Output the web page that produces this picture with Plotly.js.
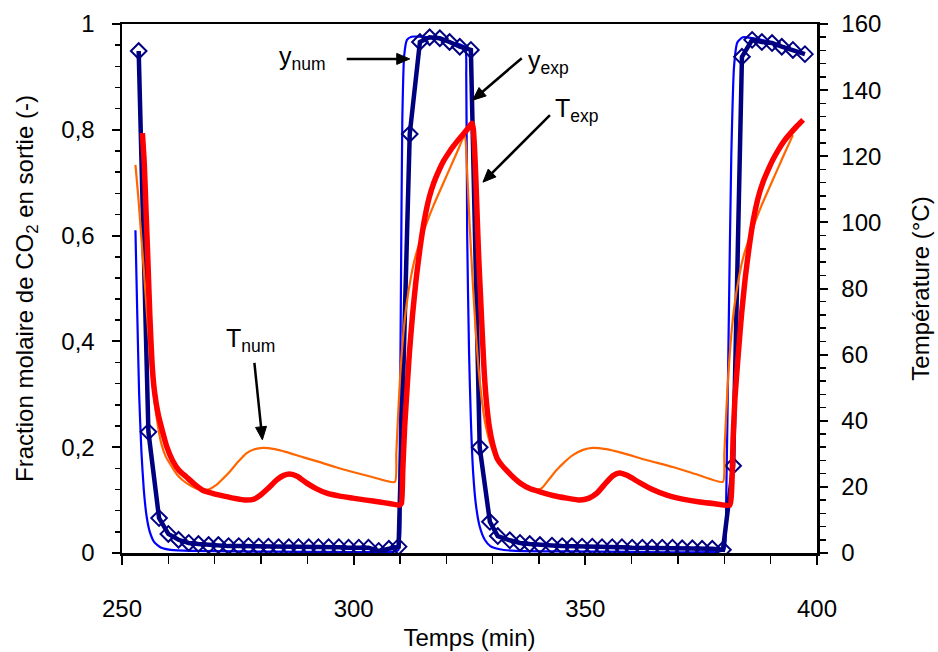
<!DOCTYPE html>
<html>
<head>
<meta charset="utf-8">
<script src="https://cdn.plot.ly/plotly-3.0.1.min.js"></script>
<style>html,body{margin:0;padding:0;background:#fff;}#chart{width:938px;height:652px;}</style>
</head>
<body>
<div id="chart"></div>
<script>
// y_exp : experimental CO2 molar fraction (diamonds + thick navy line)
var yExpTime = [253.6,255.7,258.0,260.0,262.2,264.4,266.5,268.7,270.8,273.0,275.2,277.3,279.5,281.6,283.8,286.0,288.1,290.3,292.4,294.6,296.8,298.9,301.1,303.2,305.4,307.6,309.7,312.1,314.3,316.4,318.6,320.7,322.9,325.3,
  327.2,329.4,331.1,333.7,335.9,338.0,340.2,342.8,345.0,347.1,349.3,351.5,353.6,355.8,357.9,360.1,362.3,364.4,366.6,368.8,370.9,373.1,375.2,377.4,379.7,381.9,383.8,386.0,388.1,390.3,392.4,394.8,397.4];
var yExpVal = [0.949,0.229,0.066,0.036,0.025,0.019,0.017,0.015,0.015,0.013,0.013,0.013,0.012,0.012,0.011,0.011,0.011,0.011,0.011,0.011,0.011,0.010,0.010,0.010,0.004,0.008,0.012,0.792,0.966,0.975,0.973,0.966,0.957,0.951,
  0.200,0.059,0.032,0.024,0.019,0.017,0.015,0.014,0.013,0.013,0.012,0.012,0.011,0.011,0.011,0.010,0.010,0.010,0.010,0.010,0.009,0.009,0.008,0.008,0.006,0.165,0.938,0.970,0.966,0.964,0.957,0.951,0.943];

// y_num : simulated CO2 molar fraction (thin blue)
var yNumTime = [252.9,253.3,253.7,254.2,254.7,255.3,256.0,257.0,258.5,260.5,265,275,290,305,309.6,309.9,310.2,310.5,310.9,311.5,312.5,316,320,324.0,324.3,324.5,324.9,325.3,325.8,326.4,327.2,328.3,329.5,331.5,335,345,360,378,380.0,380.4,380.9,381.5,382.1,382.8,384,388,392,396.3];
var yNumVal = [0.61,0.45,0.30,0.19,0.12,0.07,0.04,0.02,0.01,0.006,0.004,0.003,0.002,0.002,0.005,0.15,0.5,0.82,0.94,0.97,0.976,0.975,0.968,0.957,0.9,0.6,0.38,0.25,0.15,0.09,0.05,0.025,0.013,0.007,0.004,0.003,0.002,0.002,0.006,0.1,0.4,0.75,0.92,0.965,0.975,0.97,0.96,0.945];

// T_exp : experimental temperature (thick red, right axis)
var tExpTime = [254.4,254.8,255.2,255.5,256.0,256.5,257.0,257.8,258.7,259.7,260.9,262.3,263.9,265.5,267.4,269.2,271.1,274,276.9,278.5,279.7,281.5,283.4,284.8,286.2,287.8,289.8,292,294.2,297,299.8,302.7,305.6,308,309.9,310.3,310.6,311.0,311.4,312.0,312.7,313.5,314.3,315.3,316.3,317.3,318.5,319.5,320.5,321.4,322.5,323.6,324.6,325.5,
  325.8,326.1,326.4,326.7,327.0,327.4,327.8,328.2,328.7,329.3,330.0,331.0,332.0,333.0,334.4,335.9,338,340.2,343,346.0,348.8,350.8,352.5,354.5,356.0,357.4,359.0,361.8,364.5,367.6,371,374.7,378,381.2,381.6,381.9,382.3,383.0,383.7,384.5,385.3,386.3,387.3,388.3,389.5,390.5,391.7,393.0,394.3,395.6,397.0];
var tExpVal = [127,118,103,92,72,57,49,42,37,32,28,25,23,21,19,18.2,17.5,16.6,16.0,16.3,17.3,19.5,22.1,23.4,23.9,23.2,21.2,19.4,18.1,17.2,16.6,16.0,15.4,14.9,14.5,15,25,38,47,60,72,83,92,101,107.5,112,116,118.8,121,122.8,124.8,126.6,128.3,130,
  128.5,122,112,100,89,77,65,54,45,38,33,28.5,26.5,25,23,21.2,19.5,18.5,17.4,16.6,16.0,16.6,18.1,21.3,23.4,24.2,23.5,21.2,19.2,17.5,16.3,15.4,14.9,14.5,20,35,47,60,72,83,92,101,107.5,112,116,119,122,124.8,127,129,131];

// T_num : simulated temperature (thin orange, right axis)
var tNumTime = [252.9,253.5,254.2,254.9,255.6,256.3,257.0,257.8,258.5,259.5,260.8,262.0,263.1,264.5,266,267.4,268.8,270.3,271.8,273.2,275,276.9,278.6,280.4,283,285.5,289,292.7,296,299.8,304,308.9,309.2,309.6,310.1,310.7,311.4,312.3,313.3,314.3,315.8,317.2,318.6,320.5,322.4,324.0,
  324.4,325.0,325.7,326.4,327.0,327.6,328.3,329.5,331,332.7,334.4,336.5,338.7,340.5,342,343.8,345.5,347.3,349.5,351.6,354.5,358.1,363,368.9,374,379.7,380.0,380.4,380.9,381.5,382.2,383.1,384.1,385.1,386.6,388.0,389.4,391.3,393.2,394.8];
var tNumVal = [117.4,108,95,82,68,55,46,38,33,29,26,23.5,22,20.6,19.5,19,19.3,20.5,22.5,24.5,27.5,30.2,31.4,31.8,31.4,30.5,29,27.5,26,24.5,23,21.5,30,42,55,66,75,83,89.5,94,100,105,109.5,115.5,121.5,126.4,
  118,100,82,66,55,47,40,33,28,25,23,20.5,19,19.5,22,25.1,27.5,29.6,31.2,31.8,31.4,30.2,28.2,26,23.8,21.5,30,42,55,66,75,83,89.5,94,100,105,109.5,115.5,121.5,126.4];

var xTickVals = [250,300,350,400];
var xTickText = ['250','300','350','400'];

var FONT = 'Liberation Sans, Arial, sans-serif';

var traces = [
  {x: yNumTime, y: yNumVal, type: 'scatter', mode: 'lines', name: 'y_num',
   line: {color: '#0000FF', width: 2.2, shape: 'spline', smoothing: 0.5}, yaxis: 'y', showlegend: false},
  {x: yExpTime, y: yExpVal, type: 'scatter', mode: 'lines+markers', name: 'y_exp',
   line: {color: '#000080', width: 4.5},
   marker: {symbol: 'diamond-open', size: 12, color: '#000080', line: {width: 2, color: '#000080'}},
   yaxis: 'y', showlegend: false},
  {x: tNumTime, y: tNumVal, type: 'scatter', mode: 'lines', name: 'T_num',
   line: {color: '#FF6600', width: 2.2, shape: 'spline', smoothing: 0.5}, yaxis: 'y2', showlegend: false},
  {x: tExpTime, y: tExpVal, type: 'scatter', mode: 'lines', name: 'T_exp',
   line: {color: '#FF0000', width: 5.5, shape: 'spline', smoothing: 0.5}, yaxis: 'y2', showlegend: false}
];

var annFont = {family: FONT, size: 25, color: '#000'};

// arrows: head position (data, left axis) + tail offset in screen pixels (dx right, dy down)
var arrowSpecs = [
  {hx: 312.1, hy: 0.934, dx: -63, dy: 0},
  {hx: 325.7, hy: 0.856, dx: 49, dy: -42},
  {hx: 327.9, hy: 0.701, dx: 67, dy: -67},
  {hx: 280.3, hy: 0.214, dx: -8, dy: -77}
];
var shapes = [];
arrowSpecs.forEach(function (a) {
  var len = Math.sqrt(a.dx * a.dx + a.dy * a.dy);
  // unit vector from head towards tail, in y-up pixel coords
  var ux = a.dx / len, uy = -a.dy / len;
  var px = -uy, py = ux;
  var hl = 13, hw = 5.5;
  shapes.push({type: 'line', xref: 'x', yref: 'y', xsizemode: 'pixel', ysizemode: 'pixel',
    xanchor: a.hx, yanchor: a.hy, x0: ux * (hl - 2), y0: uy * (hl - 2), x1: ux * len, y1: uy * len,
    line: {color: '#000', width: 2.5}});
  var b1x = ux * hl + px * hw, b1y = uy * hl + py * hw;
  var b2x = ux * hl - px * hw, b2y = uy * hl - py * hw;
  shapes.push({type: 'path', xref: 'x', yref: 'y', xsizemode: 'pixel', ysizemode: 'pixel',
    xanchor: a.hx, yanchor: a.hy,
    path: 'M0,0 L' + b1x.toFixed(2) + ',' + b1y.toFixed(2) + ' L' + b2x.toFixed(2) + ',' + b2y.toFixed(2) + ' Z',
    fillcolor: '#000', line: {color: '#000', width: 1}});
});

var layout = {
  width: 938, height: 652, autosize: false,
  margin: {l: 122, r: 121, t: 24, b: 99, pad: 0},
  paper_bgcolor: '#fff', plot_bgcolor: '#fff',
  separators: ', ',
  font: {family: FONT, size: 24, color: '#000'},
  showlegend: false,
  xaxis: {
    range: [250, 400], tickvals: xTickVals, ticktext: xTickText,
    showgrid: false, zeroline: false,
    showline: true, linecolor: '#000', linewidth: 2.5, mirror: true,
    ticks: 'outside', ticklen: 9, tickwidth: 2, tickcolor: '#000',
    minor: {dtick: 10, ticks: 'outside', ticklen: 8, tickwidth: 1.5, tickcolor: '#000'},
    tickfont: {family: FONT, size: 24},
    ticklabelstandoff: 24,
    title: {text: 'Temps (min)', font: {family: FONT, size: 24}, standoff: 8}
  },
  yaxis: {
    range: [0, 1], dtick: 0.2,
    showgrid: false, zeroline: false,
    showline: true, linecolor: '#000', linewidth: 2.5,
    ticks: 'outside', ticklen: 8, tickwidth: 2, tickcolor: '#000',
    minor: {dtick: 0.04, ticks: 'outside', ticklen: 5, tickwidth: 1.5, tickcolor: '#000'},
    tickfont: {family: FONT, size: 24},
    ticklabelstandoff: 12,
    title: {text: 'Fraction molaire de CO<sub>2</sub> en sortie (-)', font: {family: FONT, size: 24}, standoff: 21}
  },
  yaxis2: {
    range: [0, 160], dtick: 20, overlaying: 'y', side: 'right',
    showgrid: false, zeroline: false,
    showline: true, linecolor: '#000', linewidth: 2.5,
    ticks: 'outside', ticklen: 8, tickwidth: 2, tickcolor: '#000',
    minor: {dtick: 4, ticks: 'outside', ticklen: 6, tickwidth: 1.5, tickcolor: '#000'},
    tickfont: {family: FONT, size: 24},
    ticklabelstandoff: 9,
    title: {text: 'Température (°C)', font: {family: FONT, size: 24}, standoff: 32}
  },
  shapes: shapes,
  annotations: [
    {x: 289.0, y: 0.935, xref: 'x', yref: 'y', text: 'y<sub>num</sub>', showarrow: false, font: annFont, xanchor: 'center', yanchor: 'middle'},
    {x: 342.1, y: 0.928, xref: 'x', yref: 'y', text: 'y<sub>exp</sub>', showarrow: false, font: annFont, xanchor: 'center', yanchor: 'middle'},
    {x: 348.2, y: 0.837, xref: 'x', yref: 'y', text: 'T<sub>exp</sub>', showarrow: false, font: annFont, xanchor: 'center', yanchor: 'middle'},
    {x: 277.8, y: 0.403, xref: 'x', yref: 'y', text: 'T<sub>num</sub>', showarrow: false, font: annFont, xanchor: 'center', yanchor: 'middle'}
  ]
};

Plotly.newPlot('chart', traces, layout, {displayModeBar: false, staticPlot: true});
</script>
</body>
</html>
